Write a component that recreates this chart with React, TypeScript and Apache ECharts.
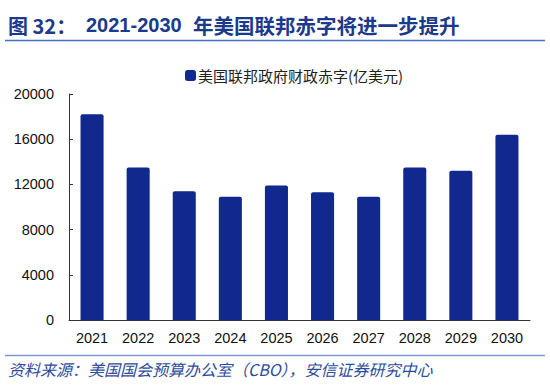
import React, { useEffect, useRef } from "react";
import * as echarts from "echarts";

const years = ["2021", "2022", "2023", "2024", "2025", "2026", "2027", "2028", "2029", "2030"];
const deficit = [18200, 13500, 11400, 10900, 11900, 11300, 10900, 13500, 13200, 16400];
const seriesName = "美国联邦政府财政赤字(亿美元)";
const titlePrefix = "图 32：";
const titleYears = "2021-2030";
const titleRest = "年美国联邦赤字将进一步提升";
const sourceText = "资料来源：美国国会预算办公室（CBO），安信证券研究中心";

export default function App() {
  const ref = useRef<HTMLDivElement>(null);
  useEffect(() => {
    if (!ref.current) return;
    const chart = echarts.init(ref.current, undefined, { renderer: "svg" });
    const latin = "'Liberation Sans', Arial, sans-serif";
    const cjk = "'Noto Sans CJK SC', sans-serif";
    chart.setOption({
      animation: false,
      backgroundColor: "#ffffff",
      legend: {
        data: [seriesName],
        top: 63,
        left: 180,
        itemWidth: 11,
        itemHeight: 11,
        itemGap: 2,
        icon: "roundRect",
        textStyle: { fontSize: 15, color: "#222", fontFamily: cjk, padding: [0, 0, 0, -3] },
      },
      grid: { left: 69, right: 20, top: 94, bottom: 72 },
      xAxis: {
        type: "category",
        data: years,
        axisLine: { lineStyle: { color: "#333", width: 1 } },
        axisTick: { inside: true, length: 4, lineStyle: { color: "#333" } },
        axisLabel: { fontSize: 14.5, color: "#111", margin: 10, fontFamily: latin },
      },
      yAxis: {
        type: "value",
        min: 0,
        max: 20000,
        interval: 4000,
        axisLine: { show: true, lineStyle: { color: "#333", width: 1 } },
        axisTick: { show: true, inside: true, length: 4, lineStyle: { color: "#333" } },
        axisLabel: {
          fontSize: 14.5,
          color: "#111",
          margin: 15,
          fontFamily: latin,
          formatter: (v: number) => String(v),
        },
        splitLine: { show: false },
      },
      series: [
        {
          name: seriesName,
          type: "bar",
          data: deficit,
          barWidth: "50%",
          itemStyle: { color: "#11288f", borderRadius: [2, 2, 0, 0] },
        },
      ],
      graphic: [
        {
          type: "text",
          x: 8,
          y: 25,
          style: {
            text: titlePrefix,
            fill: "#1b3a8c",
            font: `bold 20px ${cjk}`,
            verticalAlign: "middle",
          },
        },
        {
          type: "text",
          x: 86,
          y: 25,
          style: {
            text: titleYears,
            fill: "#1b3a8c",
            font: `bold 20px ${latin}`,
            verticalAlign: "middle",
          },
        },
        {
          type: "text",
          x: 193,
          y: 25,
          style: {
            text: titleRest,
            fill: "#1b3a8c",
            font: `bold 20.5px ${cjk}`,
            verticalAlign: "middle",
          },
        },
        {
          type: "line",
          shape: { x1: 5, y1: 40.5, x2: 545, y2: 40.5 },
          style: { stroke: "#4472c4", lineWidth: 1.5 },
        },
        {
          type: "line",
          shape: { x1: 5, y1: 355.5, x2: 545, y2: 355.5 },
          style: { stroke: "#7b98cf", lineWidth: 1.5 },
        },
        {
          type: "text",
          x: 8,
          y: 369,
          style: {
            text: sourceText,
            fill: "#2d4c9c",
            font: `italic 16px ${cjk}`,
            verticalAlign: "middle",
          },
        },
      ],
    });
    return () => chart.dispose();
  }, []);
  return <div ref={ref} style={{ width: 550, height: 392, position: "absolute", left: 0, top: 0 }} />;
}
